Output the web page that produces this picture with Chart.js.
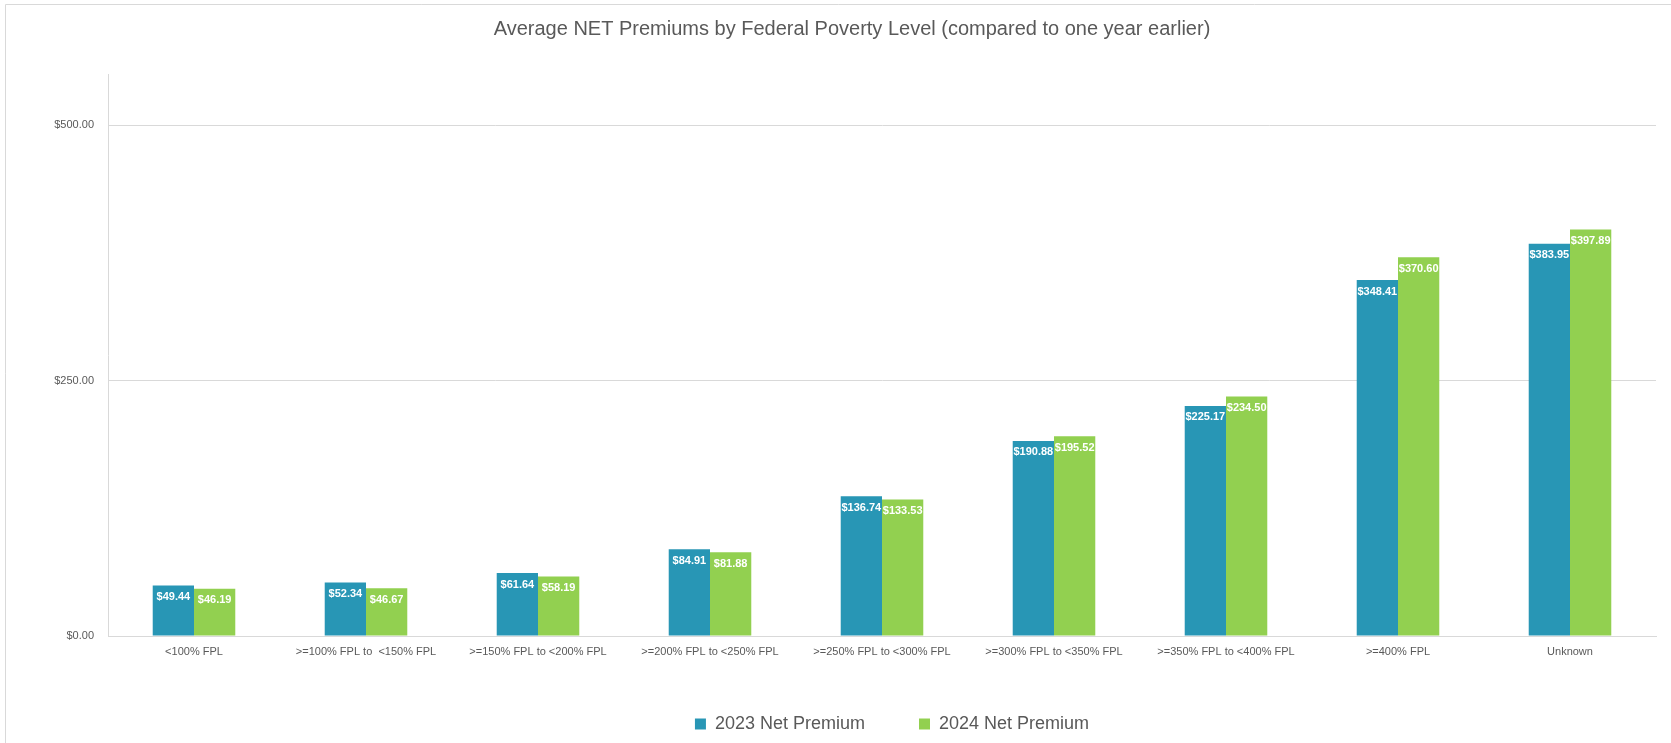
<!DOCTYPE html>
<html>
<head>
<meta charset="utf-8">
<script src="https://cdn.jsdelivr.net/npm/chart.js@4/dist/chart.umd.min.js"></script>
<style>
  html, body { margin: 0; padding: 0; background: #fff; }
  #wrap { width: 1671px; height: 743px; position: relative; }
</style>
</head>
<body>
<div id="wrap"><canvas id="premiumChart" width="1671" height="743"></canvas></div>
<script>
// categories and values
const fplLevels = ["<100% FPL", ">=100% FPL to  <150% FPL", ">=150% FPL to <200% FPL", ">=200% FPL to <250% FPL",
  ">=250% FPL to <300% FPL", ">=300% FPL to <350% FPL", ">=350% FPL to <400% FPL", ">=400% FPL", "Unknown"];
const premium2023 = [49.44, 52.34, 61.64, 84.91, 136.74, 190.88, 225.17, 348.41, 383.95];
const premium2024 = [46.19, 46.67, 58.19, 81.88, 133.53, 195.52, 234.50, 370.60, 397.89];
const yTicks = [0, 250, 500];

const textGrey = "#595959";
const lineGrey = "#d9d9d9";
const fontFamily = "'Liberation Sans', Arial, sans-serif";
const money = v => "$" + Number(v).toFixed(2);

// frame around the chart (top and left edge only are visible)
const framePlugin = {
  id: "frame",
  beforeDraw(chart) {
    const c = chart.ctx;
    c.save();
    c.strokeStyle = lineGrey;
    c.lineWidth = 1;
    c.beginPath();
    c.moveTo(5.5, 743);
    c.lineTo(5.5, 4.5);
    c.lineTo(1671, 4.5);
    c.stroke();
    c.restore();
  }
};

// the legend sits a bit right of centre in the original
const legendShift = {
  id: "legendShift",
  afterLayout(chart) {
    chart.legend.left += 40;
    chart.legend.right += 40;
  }
};

// white value labels just inside the top of every bar
const barLabels = {
  id: "barLabels",
  afterDatasetsDraw(chart) {
    const c = chart.ctx;
    c.save();
    c.font = "bold 11px " + fontFamily;
    c.fillStyle = "#ffffff";
    c.textAlign = "center";
    c.textBaseline = "middle";
    chart.data.datasets.forEach((ds, i) => {
      chart.getDatasetMeta(i).data.forEach((bar, j) => {
        c.fillText(money(ds.data[j]), bar.x, bar.y + 11.5);
      });
    });
    c.restore();
  }
};

const ctx = document.getElementById("premiumChart").getContext("2d");
new Chart(ctx, {
  type: "bar",
  data: {
    labels: fplLevels,
    datasets: [
      { label: "2023 Net Premium", data: premium2023, backgroundColor: "#2896b5" },
      { label: "2024 Net Premium", data: premium2024, backgroundColor: "#92d050" }
    ]
  },
  options: {
    responsive: false,
    animation: false,
    layout: { padding: { left: 48, right: 15, top: 0, bottom: 0 } },
    datasets: { bar: { barPercentage: 1, categoryPercentage: 0.48 } },
    plugins: {
      title: {
        display: true,
        text: "Average NET Premiums by Federal Poverty Level (compared to one year earlier)",
        color: textGrey,
        font: { family: fontFamily, size: 20, weight: "normal" },
        padding: { top: 17, bottom: 33 }
      },
      legend: {
        position: "bottom",
        labels: {
          color: textGrey,
          font: { family: fontFamily, size: 18 },
          boxWidth: 11,
          boxHeight: 11,
          padding: 54
        }
      },
      tooltip: { enabled: false }
    },
    scales: {
      x: {
        grid: { display: false, drawTicks: false },
        border: { color: lineGrey },
        ticks: {
          color: textGrey,
          font: { family: fontFamily, size: 11 },
          padding: 9,
          maxRotation: 0,
          autoSkip: false
        },
        afterFit(scale) { scale.height = 25; }
      },
      y: {
        min: 0,
        max: 550,
        grid: { color: lineGrey, drawTicks: false },
        border: { color: lineGrey },
        ticks: {
          stepSize: 250,
          color: textGrey,
          font: { family: fontFamily, size: 11 },
          padding: 14,
          callback: v => money(v)
        },
        afterBuildTicks(scale) {
          scale.ticks = yTicks.map(v => ({ value: v }));
        },
        afterFit(scale) { scale.width = 60; }
      }
    }
  },
  plugins: [framePlugin, legendShift, barLabels]
});
</script>
</body>
</html>
